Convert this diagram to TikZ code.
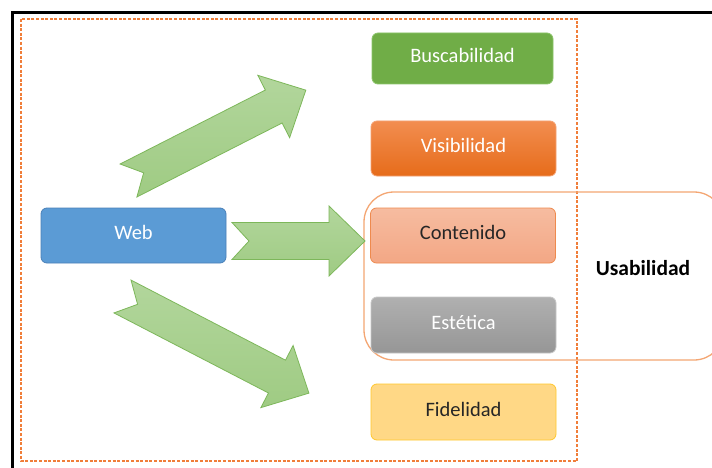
\documentclass[tikz,border=0pt]{standalone}
\usepackage{fontspec}
\setmainfont{Carlito}
\definecolor{greenbox}{HTML}{70AD47}
\definecolor{greenedge}{HTML}{8CC46A}
\definecolor{orangetop}{HTML}{F28D50}
\definecolor{orangebot}{HTML}{E66C1A}
\definecolor{orangeedge}{HTML}{F4A273}
\definecolor{salmontop}{HTML}{F6BCA0}
\definecolor{salmonbot}{HTML}{F3A785}
\definecolor{salmonedge}{HTML}{EE8A4E}
\definecolor{graytop}{HTML}{B0B0B0}
\definecolor{graybot}{HTML}{969696}
\definecolor{grayedge}{HTML}{C8C8C8}
\definecolor{yellowfill}{HTML}{FFD886}
\definecolor{yellowedge}{HTML}{FFC72C}
\definecolor{bluefill}{HTML}{5B9BD5}
\definecolor{blueedge}{HTML}{4A80B8}
\definecolor{arrowfill}{HTML}{9FCB83}
\definecolor{arrowlight}{HTML}{B2D69C}
\definecolor{arrowedge}{HTML}{7DB75A}
\definecolor{usabedge}{HTML}{F4A673}
\definecolor{dashorange}{HTML}{F07E3A}
\definecolor{darktext}{HTML}{262626}
\newcommand\BlockArr[3]{%
  \begin{scope}[shift={#1},rotate=#2]
    \path[bigarrow] (0,-18.5) -- ({#3-36},-18.5) -- ({#3-36},-35) -- (#3,0)
      -- ({#3-36},35) -- ({#3-36},18.5) -- (0,18.5) -- (17,0) -- cycle;
  \end{scope}}
\begin{document}
\begin{tikzpicture}[x=1pt,y=-1pt,
  box/.style={rounded corners=6pt, minimum width=185pt, minimum height=55pt,
    inner sep=0pt, text depth=6pt, font=\fontsize{20.5}{24}\selectfont, line width=0.8pt},
  bigarrow/.style={draw=arrowedge, line width=0.8pt, top color=arrowlight, bottom color=arrowfill}]
\useasboundingbox (0,0) rectangle (712,468);
\fill[white] (0,0) rectangle (712,468);
% outer black frame (left and top visible)
\draw[line width=2.2pt] (12.5,470) -- (12.5,12.5) -- (714,12.5);
% dashed group
\draw[draw=dashorange, line width=1.1pt, dash pattern=on 3pt off 1.6pt] (21,19) rectangle (577,461);
% usability frame
\node (usabframe) [draw=usabedge, line width=1.3pt, rounded corners=30pt,
  minimum width=360pt, minimum height=168pt] at (544,276) {};
% boxes
\node (busc) [box, fill=greenbox, draw=greenedge, text=white, minimum width=181pt, minimum height=51pt] at (462.5,58.5) {Buscabilidad};
\node (visi) [box, top color=orangetop, bottom color=orangebot, draw=orangeedge, text=white] at (463.5,148.5) {Visibilidad};
\node (cont) [box, top color=salmontop, bottom color=salmonbot, draw=salmonedge, text=darktext] at (463,235.5) {Contenido};
\node (este) [box, top color=graytop, bottom color=graybot, draw=grayedge, text=white, minimum height=56pt] at (463.5,325) {Estética};
\node (fide) [box, fill=yellowfill, draw=yellowedge, text=darktext, minimum height=56pt] at (463.5,412) {Fidelidad};
\node (web) [box, fill=bluefill, draw=blueedge, text=white] at (133.5,235.5) {Web};
\node (usab) [font=\fontsize{21.5}{26}\selectfont\bfseries, text=black] at (643,268) {Usabilidad};
% block arrows
\BlockArr{(128.5,180.5)}{27}{199}
\BlockArr{(232,241)}{0}{133}
\BlockArr{(122.5,296.5)}{-27.4}{210}
\end{tikzpicture}
\end{document}
